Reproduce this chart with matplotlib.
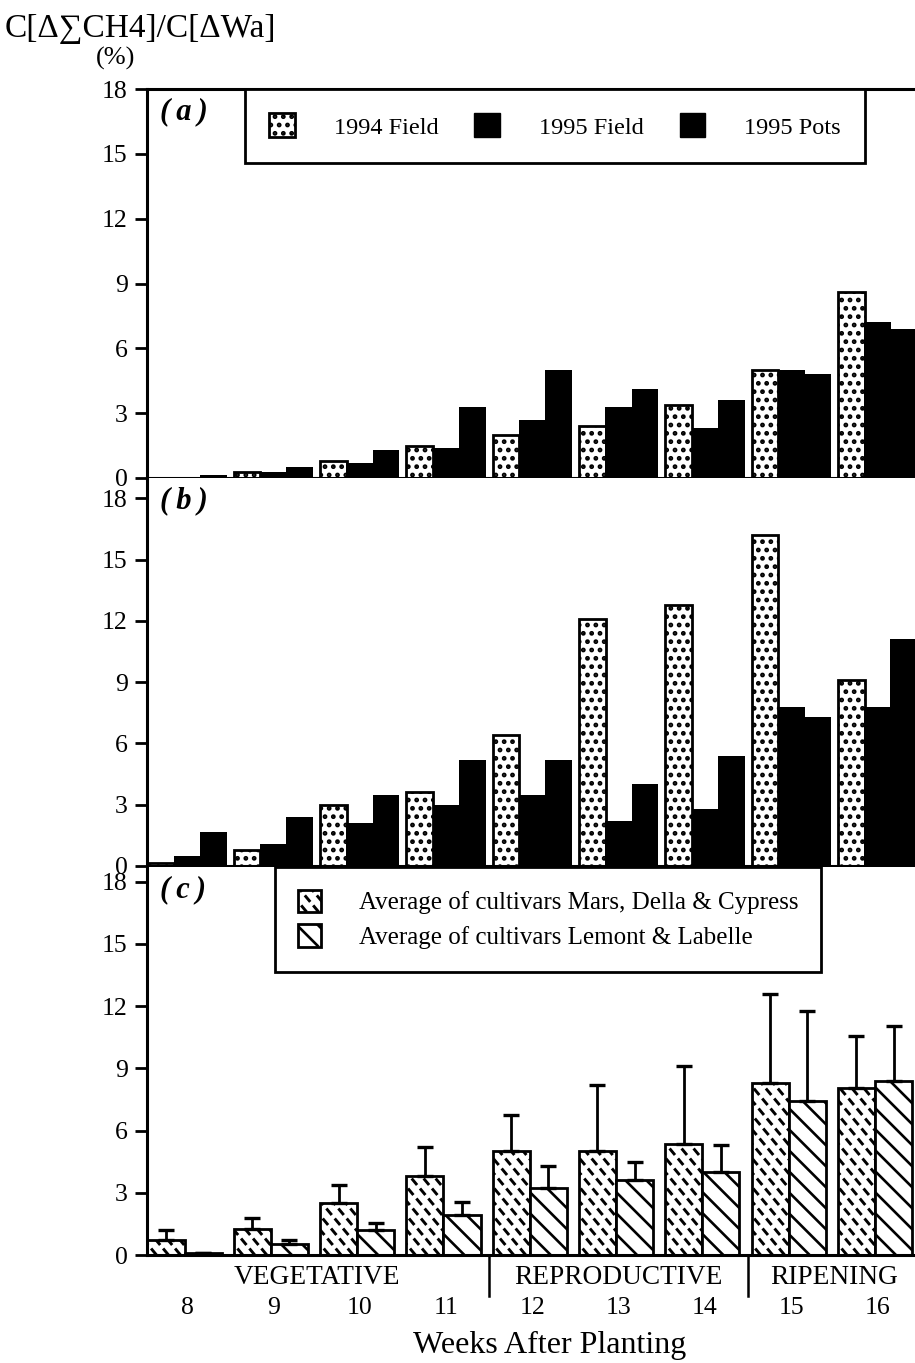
import numpy as np
import matplotlib
matplotlib.use("Agg")
import matplotlib.pyplot as plt
from matplotlib.patches import Patch
from matplotlib.collections import LineCollection
from matplotlib.transforms import IdentityTransform, blended_transform_factory

plt.rcParams['font.family'] = ['Liberation Serif', 'DejaVu Serif']
plt.rcParams['hatch.linewidth'] = 2.2

weeks = [8, 9, 10, 11, 12, 13, 14, 15, 16]
stages = ["VEGETATIVE", "REPRODUCTIVE", "RIPENING"]
stage_weeks = [(8, 11), (12, 14), (15, 16)]

# (a)
a_field94 = [0.0, 0.3, 0.8, 1.5, 2.0, 2.4, 3.4, 5.0, 8.6]
a_field95 = [0.05, 0.3, 0.7, 1.4, 2.7, 3.3, 2.3, 5.0, 7.2]
a_pots95 = [0.15, 0.5, 1.3, 3.3, 5.0, 4.1, 3.6, 4.8, 6.9]

# (b)
b_field94 = [0.15, 0.8, 3.0, 3.6, 6.4, 12.1, 12.8, 16.2, 9.1]
b_field95 = [0.5, 1.1, 2.1, 3.0, 3.5, 2.2, 2.8, 7.8, 7.8]
b_pots95 = [1.65, 2.4, 3.5, 5.2, 5.2, 4.0, 5.4, 7.3, 11.1]

# (c) cultivar averages, upper error only
c_mars = [0.7, 1.25, 2.5, 3.8, 5.0, 5.0, 5.35, 8.3, 8.05]
c_mars_err = [0.5, 0.55, 0.85, 1.4, 1.75, 3.2, 3.75, 4.3, 2.5]
c_lemont = [0.1, 0.55, 1.2, 1.95, 3.25, 3.6, 4.0, 7.4, 8.4]
c_lemont_err = [0.0, 0.15, 0.35, 0.6, 1.05, 0.9, 1.3, 4.35, 2.65]

FW, FH = 915, 1363
fig = plt.figure(figsize=(FW / 100, FH / 100), dpi=100)

X0, X1 = 7.535, 16.5
left_px, right_px = 147, 920.7


def panel(top_px, bottom_px, ytop):
    ax = fig.add_axes([left_px / FW, 1 - bottom_px / FH,
                       (right_px - left_px) / FW, (bottom_px - top_px) / FH])
    ax.set_xlim(X0, X1)
    ax.set_ylim(0, ytop)
    ax.set_yticks(range(0, 19, 3))
    ax.tick_params(axis='y', direction='out', length=9, width=2, pad=5, labelsize=18.5)
    ax.tick_params(axis='x', length=0, labelbottom=False)
    for side in ['left', 'bottom', 'top']:
        ax.spines[side].set_linewidth(2.2)
    ax.spines['right'].set_visible(False)
    return ax


ax_a = panel(89, 478, 18)
ax_b = panel(478, 866, 19)
ax_c = panel(867, 1255, 18.7)
ax_b.spines['top'].set_visible(False)
ax_c.spines['top'].set_visible(False)

x = np.array(weeks, dtype=float)
bw = 0.31
for ax, s94, s95, p95 in [(ax_a, a_field94, a_field95, a_pots95),
                          (ax_b, b_field94, b_field95, b_pots95)]:
    ax.bar(x - 0.305, s94, bw, facecolor='white', edgecolor='black',
           linewidth=2.0, hatch='..')
    ax.bar(x, s95, bw, color='black', linewidth=0)
    ax.bar(x + 0.305, p95, bw, color='black', linewidth=0)


def dash_strokes(box, slope=1.2, rows=10.0, col_step=12.0, run=6.5, lw=2.1):
    # short "\" strokes on a lattice in pixel space
    (x0, y0), (x1, y1) = box
    segs = []
    dx = run / slope
    for k, yb in enumerate(np.arange(y0 - rows, y1 + rows, rows)):
        shift = (-k * rows / slope) % col_step
        for xc in np.arange(x0 - 2 * col_step + shift, x1 + col_step, col_step):
            segs.append([(xc, yb + run), (xc + dx, yb)])
    return LineCollection(segs, colors='black', linewidths=lw,
                          transform=IdentityTransform(), zorder=6)


def diag_lines(box, spacing=21.0, lw=1.9):
    (x0, y0), (x1, y1) = box
    h = y1 - y0
    segs = [[(c, y0), (c - h, y1)] for c in np.arange(x0, x1 + h + spacing, spacing)]
    return LineCollection(segs, colors='black', linewidths=lw,
                          transform=IdentityTransform(), zorder=6)


def bar_box(ax, bar):
    return ax.transData.transform([(bar.get_x(), 0),
                                   (bar.get_x() + bar.get_width(), bar.get_height())])


cw = 0.43
bars_m = ax_c.bar(x - 0.245, c_mars, cw, facecolor='white', edgecolor='black', linewidth=2.0)
bars_l = ax_c.bar(x + 0.185, c_lemont, cw, facecolor='white', edgecolor='black', linewidth=2.0)
ax_c.errorbar(x - 0.245, c_mars, yerr=[np.zeros(len(weeks)), c_mars_err], fmt='none',
              ecolor='black', elinewidth=2.0, capsize=6, capthick=2.4, zorder=7)
ax_c.errorbar(x + 0.185, c_lemont, yerr=[np.zeros(len(weeks)), c_lemont_err], fmt='none',
              ecolor='black', elinewidth=2.0, capsize=6, capthick=2.4, zorder=7)

for bar in bars_m:
    lc = dash_strokes(bar_box(ax_c, bar))
    ax_c.add_collection(lc, autolim=False)
    lc.set_clip_path(bar)
for bar in bars_l:
    lc = diag_lines(bar_box(ax_c, bar))
    ax_c.add_collection(lc, autolim=False)
    lc.set_clip_path(bar)

# growth stage labels and separators under panel (c)
trans = blended_transform_factory(ax_c.transData, ax_c.transAxes)
for name, (w0, w1) in zip(stages, stage_weeks):
    ax_c.text((w0 + w1) / 2, -0.058, name, transform=trans, ha='center', va='center',
              fontsize=19.7)
for (w0, w1), (n0, n1) in zip(stage_weeks[:-1], stage_weeks[1:]):
    ax_c.plot([(w1 + n0) / 2] * 2, [0, -0.105], transform=trans, color='black',
              lw=1.8, clip_on=False)
ax_c.set_xticks(weeks, labels=[str(w) for w in weeks])
ax_c.tick_params(axis='x', length=0, pad=30, labelsize=18.5, labelbottom=True)
fig.text(550 / FW, 1 - 1345 / FH, "Weeks After Planting", ha='center', va='center',
         fontsize=23)

# titles
fig.text(5 / FW, 1 - 29 / FH, "C[Δ∑CH4]/C[ΔWa]", ha='left', va='center', fontsize=24)
fig.text(116 / FW, 1 - 58 / FH, "(%)", ha='center', va='center', fontsize=19)
for ax, tag in [(ax_a, '(a)'), (ax_b, '(b)'), (ax_c, '(c)')]:
    ax.text(0.017, 0.978, tag.replace('(', '(\u2009').replace(')', '\u2009)'),
            transform=ax.transAxes, ha='left', va='top',
            fontsize=22, fontweight='bold', fontstyle='italic')

axw = right_px - left_px
leg_a = ax_a.legend(
    handles=[Patch(facecolor='white', edgecolor='black', hatch='..', linewidth=2.0),
             Patch(facecolor='black', edgecolor='black'),
             Patch(facecolor='black', edgecolor='black')],
    labels=["1994 Field", "1995 Field", "1995 Pots"], ncol=3, mode='expand',
    loc='upper left', bbox_to_anchor=((245 - left_px) / axw, 1.0, (865 - 245) / axw, 0),
    borderaxespad=0, fontsize=17.5, handlelength=1.05, handleheight=1.15,
    handletextpad=1.6, borderpad=1.0, fancybox=False, framealpha=1, edgecolor='black')
leg_a.get_frame().set_linewidth(2.0)

leg_c = ax_c.legend(
    handles=[Patch(facecolor='white', edgecolor='black', linewidth=2.0),
             Patch(facecolor='white', edgecolor='black', linewidth=2.0)],
    labels=["Average of cultivars Mars, Della & Cypress",
            "Average of cultivars Lemont & Labelle"],
    loc='upper left', bbox_to_anchor=((275 - left_px) / axw, 1.0),
    borderaxespad=0, fontsize=18, handlelength=0.95, handleheight=1.0,
    handletextpad=1.5, borderpad=0.9, labelspacing=0.4, fancybox=False,
    framealpha=1, edgecolor='black')
leg_c.get_frame().set_linewidth(2.0)

# pattern the legend swatches of panel (c)
fig.canvas.draw()
hm, hl = leg_c.legend_handles
bb = hm.get_window_extent()
lc = dash_strokes([(bb.x0, bb.y0), (bb.x1, bb.y1)])
lc.set_clip_box(bb)
fig.add_artist(lc)
bb = hl.get_window_extent()
lc = diag_lines([(bb.x0, bb.y0), (bb.x1, bb.y1)])
lc.set_clip_box(bb)
fig.add_artist(lc)

fig.savefig("out.png", dpi=100)
